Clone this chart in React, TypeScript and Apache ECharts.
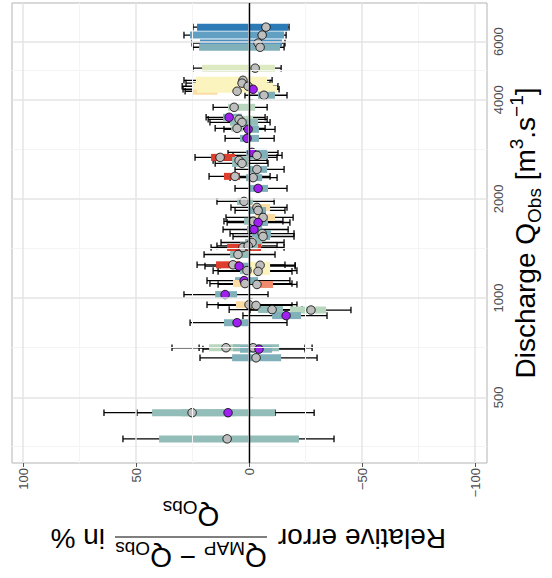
import React, { useEffect, useRef } from "react";
import * as echarts from "echarts";

// ---- data ----
const discharge = [6640, 6280, 5940, 5770, 4985, 4580, 4490, 4243, 4394, 4302, 4126, 3793, 3537, 3488, 3415, 3275, 3252, 3053, 2768, 2711, 2673, 2617, 2563, 2458, 2341, 2320, 2152, 1965, 1884, 1845, 1757, 1710, 1696, 1615, 1570, 1538, 1475, 1424, 1440, 1356, 1262, 1250, 1258, 1212, 1205, 1130, 1107, 1100, 1025, 955, 950, 923, 920, 885, 842, 707, 707, 700, 659, 449, 449, 374];
const mapError = [-7.5, -5.8, -4.0, -4.9, -2.7, 2.7, 3.1, 5.3, 0.4, -1.8, -6.6, 6.6, 8.8, 4.4, 3.1, 5.3, 0.4, 0.9, -1.3, -3.5, 12.8, 4.4, 3.1, -3.5, 6.2, -1.8, -4.0, 2.2, -3.5, -4.0, -6.2, -1.8, -4.0, -2.2, -5.8, -6.2, -1.3, 2.7, 0.4, 4.9, 7.1, 4.4, -4.9, 0.9, -4.0, 2.2, 1.8, -3.5, 10.6, 0, -3.1, -10.2, -27.4, -16.4, 5.3, 10.2, -1.8, -4.4, -3.1, 25.2, 9.3, 9.7];
const barLow = [23.0, 26.1, 21.7, 22.1, 20.8, 23.5, 22.6, 24.8, 24.8, 23.0, -4.0, 9.3, 11.5, 7.5, 8.4, 7.9, 1.8, 4.0, 1.3, -0.4, 16.8, 7.5, 7.5, 0, 11.1, 1.3, -0.4, 5.3, -1.3, 0.4, -2.7, 2.2, -0.4, 0.9, -1.3, -2.7, 1.8, 9.7, 4.0, 8.4, 14.6, 6.2, -0.4, 4.0, -0.4, 6.2, 7.1, -2.7, 15.0, 5.8, 0, -4.0, -18.1, -10.2, 11.1, 17.7, 7.1, 4.0, 7.5, 42.9, 30.1, 39.8];
const barHigh = [-17.3, -15.5, -14.6, -13.7, -11.5, -8.0, -7.1, 14.0, -10.6, -12.4, -11.5, -2.7, 3.1, -1.8, -4.0, 2.7, -4.4, -4.4, -8.0, -8.4, 6.2, 0.4, 0.4, -8.0, 4.0, -5.8, -8.4, -1.8, -9.3, -7.5, -11.5, -5.3, -8.4, -5.8, -9.7, -9.3, -5.8, -5.3, -4.0, -0.4, 4.0, -0.4, -9.3, -1.3, -9.3, -4.0, 0, -10.6, 5.3, -1.3, -4.0, -15.0, -34.1, -23.0, -0.4, 4.0, -13.3, -10.2, -14.2, 6.2, -11.5, -22.1];
const errLow = [24.8, 28.8, 25.2, 24.8, 24.8, 28.8, 27.9, 28.3, 29.6, 29.2, 1.8, 15.9, 19.0, 18.1, 17.3, 15.0, 11.1, 10.6, 9.3, 7.1, 23.9, 15.9, 15.0, 6.2, 17.7, 8.4, 6.2, 14.2, 8.0, 6.2, 10.2, 11.1, 9.7, 11.5, 8.4, 7.1, 12.4, 16.8, 14.2, 19.9, 23.0, 19.5, 12.8, 15.9, 13.7, 18.6, 17.3, 13.7, 28.8, 18.6, 13.7, 8.8, -0.4, 2.7, 26.1, 34.1, 22.1, 20.4, 21.7, 64.2, 49.6, 55.8];
const errHigh = [-17.7, -16.4, -15.9, -15.5, -14.2, -10.2, -9.3, -10.2, -12.8, -13.3, -16.8, -8.0, -7.1, -8.0, -9.3, -7.1, -11.5, -11.1, -12.8, -14.6, -12.4, -8.0, -8.4, -15.5, -9.3, -12.4, -16.8, -11.1, -16.8, -15.9, -19.5, -15.0, -18.1, -17.3, -19.9, -19.9, -15.5, -15.5, -12.4, -11.5, -15.9, -20.4, -20.4, -21.2, -19.0, -18.1, -19.0, -21.2, -8.4, -21.2, -19.0, -23.5, -45.1, -34.5, -16.8, -24.8, -27.9, -24.8, -30.1, -11.5, -28.8, -37.6];
const barGroup = ["b1", "b2", "b3", "b4", "g2", "y1", "y1", "o1", "y1", "y1", "b4", "g1", "b4", "g1", "t1", "g1", "b4", "b4", "b4", "b4", "r1", "t1", "t1", "b4", "r1", "b4", "b4", "t1", "o1", "b4", "o1", "t1", "b4", "b4", "b4", "b4", "t1", "r1", "t1", "t1", "r1", "b4", "y1", "t1", "y1", "b4", "o1", "s1", "b4", "o1", "o1", "t1", "g1", "b4", "b4", "g1", "t1", "b4", "b4", "t1", "t1", "t1"];
const isPurple = [0, 0, 0, 0, 0, 0, 0, 0, 0, 1, 0, 0, 1, 0, 0, 0, 1, 1, 1, 0, 0, 0, 0, 0, 0, 0, 1, 0, 0, 0, 0, 0, 1, 1, 0, 0, 0, 0, 0, 0, 0, 1, 0, 0, 0, 1, 0, 0, 1, 0, 0, 0, 0, 1, 1, 0, 0, 1, 0, 0, 1, 0];

const errorTicks = [-100, -50, 0, 50, 100];
const errorMinor = [-75, -25, 25, 75];
const dischargeTicks = [500, 1000, 2000, 4000, 6000];
const dischargeMinor = [354, 707, 1414, 2828, 4899];

const palette: Record<string, string> = {
  b1: "#2c7bb6",
  b2: "#62a0c3",
  b3: "#4b8fc0",
  b4: "#80b1bb",
  t1: "#93bdb8",
  g1: "#b9d7bf",
  g2: "#dde9c1",
  y1: "#fcf4bf",
  o1: "#fbdca3",
  s1: "#f08a6d",
  r1: "#dd3e2e",
};

const FONT = '"Liberation Sans", Arial, Helvetica, sans-serif';

type Piece = { t: string; size: number; shift: number };

function makeMeasure() {
  const c = document.createElement("canvas").getContext("2d")!;
  return (t: string, size: number) => {
    c.font = `${size}px "Liberation Sans"`;
    return c.measureText(t).width;
  };
}

function runText(pieces: Piece[], x0: number, baseline: number, measure: (t: string, s: number) => number) {
  let x = x0;
  const els: any[] = [];
  for (const p of pieces) {
    els.push({
      type: "text",
      x,
      y: baseline + p.shift - 0.3465 * p.size,
      style: { text: p.t, fontSize: p.size, fontFamily: FONT, fill: "#000", align: "left", verticalAlign: "middle" },
    });
    x += measure(p.t, p.size);
  }
  return els;
}
function widthOf(pieces: Piece[], measure: (t: string, s: number) => number) {
  return pieces.reduce((a, p) => a + measure(p.t, p.size), 0);
}

export default function App() {
  const ref = useRef<HTMLDivElement>(null);
  useEffect(() => {
    if (!ref.current) return;
    const chart = echarts.init(ref.current, undefined, { renderer: "svg" });
    const measure = makeMeasure();
    const F = 28;
    const S = 19;

    // Discharge title (rotated 90deg)
    const dPieces: Piece[] = [
      { t: "Discharge Q", size: F, shift: 0 },
      { t: "Obs", size: S, shift: 6 },
      { t: " [m", size: F, shift: 0 },
      { t: "3", size: S, shift: -12 },
      { t: ".s", size: F, shift: 0 },
      { t: "\u22121", size: S, shift: -12 },
      { t: "]", size: F, shift: 0 },
    ];
    const dW = widthOf(dPieces, measure);
    const dischargeTitle = {
      type: "group",
      x: 535,
      y: 233,
      rotation: Math.PI / 2,
      children: runText(dPieces, -dW / 2, 0, measure),
    };

    // Relative error title (rotated 180deg)
    const num: Piece[] = [
      { t: "Q", size: F, shift: 0 },
      { t: "MAP", size: S, shift: 6 },
      { t: " \u2212 ", size: F, shift: 0 },
      { t: "Q", size: F, shift: 0 },
      { t: "Obs", size: S, shift: 6 },
    ];
    const den: Piece[] = [
      { t: "Q", size: F, shift: 0 },
      { t: "Obs", size: S, shift: 6 },
    ];
    const numW = widthOf(num, measure);
    const denW = widthOf(den, measure);
    const fracC = 58;
    const relTitle = {
      type: "group",
      x: 249,
      y: 538,
      rotation: Math.PI,
      children: [
        ...runText([{ t: "Relative error", size: F, shift: 0 }], -197, 9, measure),
        ...runText(num, fracC - numW / 2, -10, measure),
        { type: "line", shape: { x1: -18, y1: 1, x2: 134, y2: 1 }, style: { stroke: "#000", lineWidth: 1.2 } },
        ...runText(den, fracC - denW / 2, 31, measure),
        ...runText([{ t: "in %", size: F, shift: 0 }], 144, 9, measure),
      ],
    };

    const gridLines: any[] = [];
    errorMinor.forEach((v) => gridLines.push({ xAxis: v, lineStyle: { color: "#f4f4f4", width: 1, type: "solid" } }));
    dischargeMinor.forEach((v) => gridLines.push({ yAxis: v, lineStyle: { color: "#f4f4f4", width: 1, type: "solid" } }));
    errorTicks.forEach((v) => gridLines.push({ xAxis: v, lineStyle: { color: "#e4e4e4", width: 1.5, type: "solid" } }));
    dischargeTicks.forEach((v) => gridLines.push({ yAxis: v, lineStyle: { color: "#e4e4e4", width: 1.5, type: "solid" } }));
    gridLines.push({ xAxis: 0, lineStyle: { color: "#000", width: 1.4, type: "solid" } });

    const n = discharge.length;
    const errData = [] as any[];
    const barData = [] as any[];
    const ptData = [] as any[];
    for (let i = 0; i < n; i++) {
      errData.push([errLow[i], errHigh[i], discharge[i]]);
      barData.push({ value: [barLow[i], barHigh[i], discharge[i]], itemStyle: { color: palette[barGroup[i]] } });
      ptData.push({ value: [mapError[i], discharge[i]], itemStyle: { color: isPurple[i] ? "#a020f0" : "#bebebe" } });
    }

    const labelStyle = { fontSize: 13, color: "#4d4d4d", fontFamily: FONT };

    chart.setOption({
      animation: false,
      grid: {
        left: 12,
        right: 65,
        top: 3,
        bottom: 115,
        show: true,
        backgroundColor: "#ffffff",
        borderColor: "#b3b3b3",
        borderWidth: 1,
      },
      xAxis: {
        type: "value",
        inverse: true,
        min: -105.3,
        max: 104.9,
        axisLine: { show: false },
        splitLine: { show: false },
        axisTick: { show: true, customValues: errorTicks, length: 4, lineStyle: { color: "#555" } },
        axisLabel: {
          ...labelStyle,
          customValues: errorTicks,
          rotate: 90,
          margin: 5,
          formatter: (v: number) => (v < 0 ? "\u2212" + Math.abs(v) : String(v)),
        },
      },
      yAxis: {
        type: "log",
        logBase: 10,
        position: "right",
        min: 316,
        max: 7860,
        axisLine: { show: false },
        splitLine: { show: false },
        minorSplitLine: { show: false },
        axisTick: { show: true, customValues: dischargeTicks, length: 4, lineStyle: { color: "#555" } },
        axisLabel: {
          ...labelStyle,
          customValues: dischargeTicks,
          rotate: 90,
          margin: 5,
          formatter: (v: number) => String(Math.round(v)),
        },
      },
      graphic: [dischargeTitle, relTitle],
      series: [
        {
          type: "line",
          data: [],
          z: 1,
          silent: true,
          markLine: {
            silent: true,
            symbol: ["none", "none"],
            label: { show: false },
            animation: false,
            data: gridLines,
          },
        },
        {
          type: "custom",
          z: 2,
          silent: true,
          encode: { x: [0, 1], y: 2 },
          data: errData,
          renderItem: (params: any, api: any) => {
            const q = api.value(2);
            const p1 = api.coord([api.value(0), q]);
            const p2 = api.coord([api.value(1), q]);
            const h = 3.3;
            const st = { stroke: "#000", lineWidth: 1.3 };
            return {
              type: "group",
              children: [
                { type: "line", shape: { x1: p1[0], y1: p1[1], x2: p2[0], y2: p2[1] }, style: st },
                { type: "line", shape: { x1: p1[0], y1: p1[1] - h, x2: p1[0], y2: p1[1] + h }, style: st },
                { type: "line", shape: { x1: p2[0], y1: p2[1] - h, x2: p2[0], y2: p2[1] + h }, style: st },
              ],
            };
          },
        },
        {
          type: "custom",
          z: 3,
          silent: true,
          encode: { x: [0, 1], y: 2 },
          data: barData,
          renderItem: (params: any, api: any) => {
            const q = api.value(2);
            const p1 = api.coord([api.value(0), q]);
            const p2 = api.coord([api.value(1), q]);
            const x = Math.min(p1[0], p2[0]);
            const w = Math.abs(p2[0] - p1[0]);
            return {
              type: "rect",
              shape: { x, y: p1[1] - 3.5, width: w, height: 7 },
              style: { fill: api.visual("color") },
            };
          },
        },
        {
          type: "scatter",
          z: 4,
          silent: true,
          symbol: "circle",
          symbolSize: 8.5,
          data: ptData,
          itemStyle: { borderColor: "#000", borderWidth: 0.8, opacity: 1 },
        },
      ],
    });
    return () => chart.dispose();
  }, []);
  return <div ref={ref} style={{ position: "absolute", left: 0, top: 0, width: 552, height: 578 }} />;
}
